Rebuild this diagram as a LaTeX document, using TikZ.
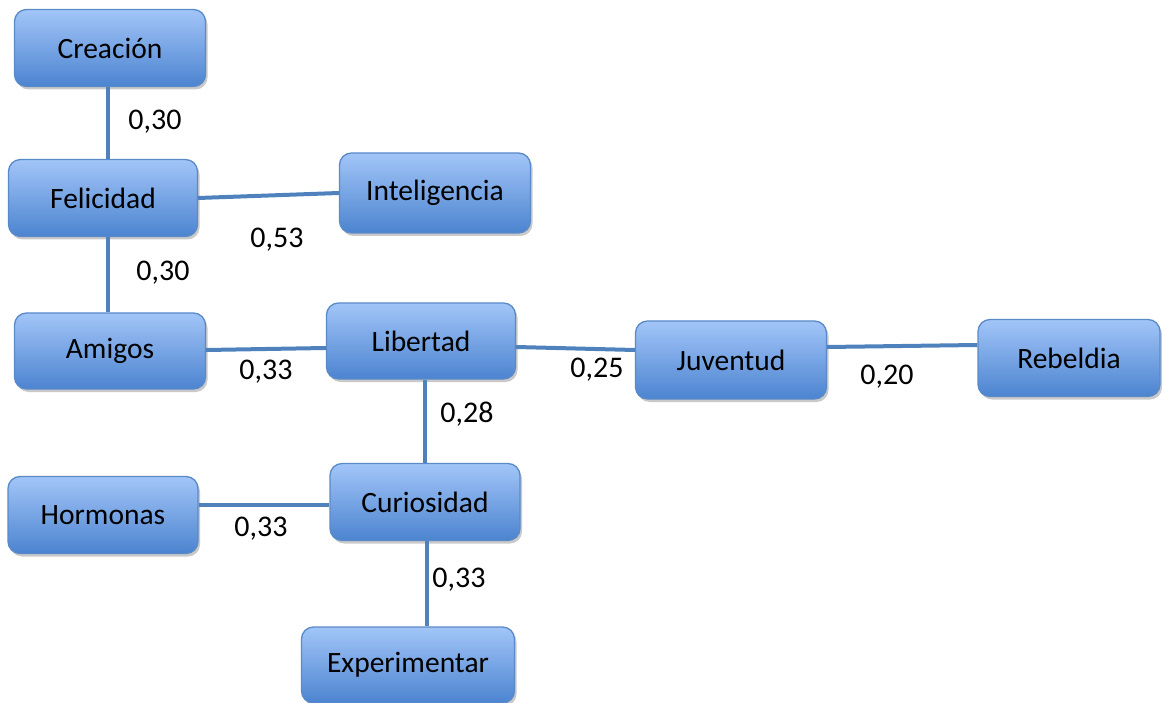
\documentclass[tikz,border=0pt]{standalone}
\usepackage{fontspec}
\setmainfont{Carlito}
\usetikzlibrary{shadows}
\definecolor{boxtop}{HTML}{A2C5F8}
\definecolor{boxbot}{HTML}{4C84D0}
\definecolor{boxline}{HTML}{5A8AC8}
\definecolor{connc}{HTML}{4F81BD}
\tikzset{
  box/.style={draw=boxline, line width=1.3pt, rounded corners=12pt,
    top color=boxtop, bottom color=boxbot, inner sep=0pt,
    font=\fontsize{29.5}{34}\selectfont, text=black,
    drop shadow={shadow xshift=2pt, shadow yshift=-3pt, opacity=0.3, fill=black!70}},
  conn/.style={draw=connc, line width=4pt},
  lbl/.style={font=\fontsize{30}{34}\selectfont, text=black, inner sep=0pt}
}
\begin{document}
\begin{tikzpicture}[x=1pt,y=-1pt]
\useasboundingbox (0,0) rectangle (1162,703);
\coordinate (cf) at (108,0);
\coordinate (lc) at (425,0);
\coordinate (ce) at (427,0);
\node[box, minimum width=191pt, minimum height=77pt] (creacion) at (110,48) {Creación};
\node[box, minimum width=189pt, minimum height=77pt] (felicidad) at (103,198) {Felicidad};
\node[box, minimum width=191pt, minimum height=80pt] (inteligencia) at (435,193) {Inteligencia};
\node[box, minimum width=191pt, minimum height=76pt] (amigos) at (110,351) {Amigos};
\node[box, minimum width=189pt, minimum height=76pt] (libertad) at (421,341) {Libertad};
\node[box, minimum width=191pt, minimum height=78pt] (juventud) at (731,360) {Juventud};
\node[box, minimum width=182pt, minimum height=77pt] (rebeldia) at (1069,358) {Rebeldia};
\node[box, minimum width=190pt, minimum height=77pt] (hormonas) at (103,515) {Hormonas};
\node[box, minimum width=190pt, minimum height=77pt] (curiosidad) at (425,502) {Curiosidad};
\node[box, minimum width=213pt, minimum height=76pt] (experimentar) at (408,665) {Experimentar};

\draw[conn] (creacion.south -| cf) -- (felicidad.north -| cf);
\draw[conn] (felicidad.east) -- (inteligencia.west);
\draw[conn] (felicidad.south -| cf) -- (amigos.north -| cf);
\draw[conn] (amigos.east |- 0,350) -- (libertad.west |- 0,348);
\draw[conn] (libertad.east |- 0,347) -- (juventud.west |- 0,350);
\draw[conn] (juventud.east |- 0,347) -- (rebeldia.west |- 0,345);
\draw[conn] (libertad.south -| lc) -- (curiosidad.north -| lc);
\draw[conn] (hormonas.east |- 0,505) -- (curiosidad.west |- 0,505);
\draw[conn] (curiosidad.south -| ce) -- (experimentar.north -| ce);

\node[lbl] (l1) at (155,122) {0,30};
\node[lbl] (l2) at (277,240) {0,53};
\node[lbl] (l3) at (163,273) {0,30};
\node[lbl] (l4) at (266,372) {0,33};
\node[lbl] (l5) at (597,370) {0,25};
\node[lbl] (l6) at (887,377) {0,20};
\node[lbl] (l7) at (467,414) {0,28};
\node[lbl] (l8) at (261,529) {0,33};
\node[lbl] (l9) at (459,580) {0,33};
\end{tikzpicture}
\end{document}
